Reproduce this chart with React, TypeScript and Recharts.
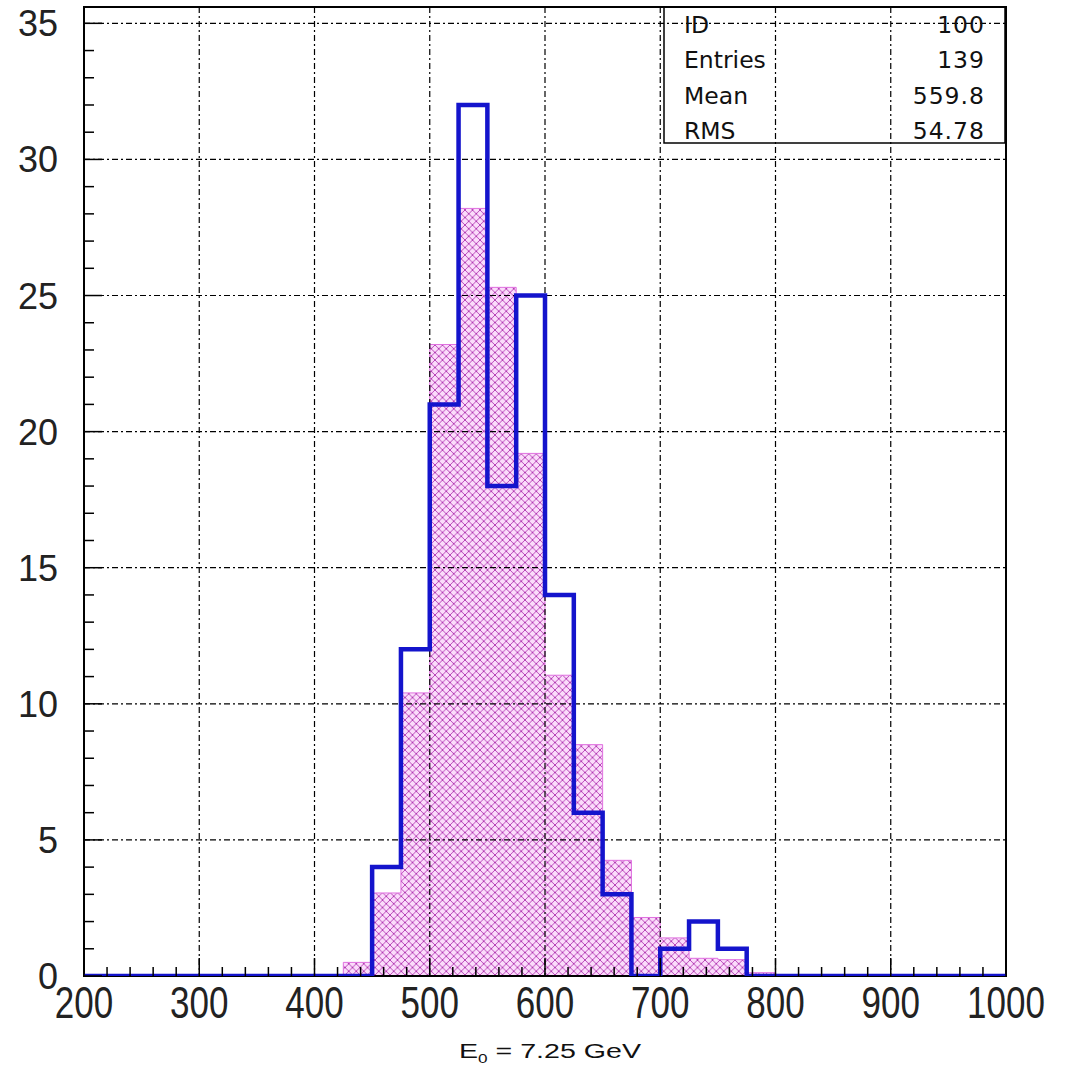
import React from 'react';
import {
  ComposedChart,
  Area,
  Line,
  XAxis,
  YAxis,
  CartesianGrid,
  ReferenceArea,
} from 'recharts';

// histogram bins (lower edge, width 25)
const binStart = [425, 450, 475, 500, 525, 550, 575, 600, 625, 650, 675, 700, 725, 750, 775];
const dataCounts = [0, 4, 12, 21, 32, 18, 25, 14, 6, 3, 0, 1, 2, 1, 0];
const mcCounts = [0.5, 3.05, 10.4, 23.2, 28.2, 25.3, 19.2, 11.05, 8.5, 4.25, 2.15, 1.4, 0.65, 0.6, 0.12];
const BIN_W = 25;

const xMajor = [200, 300, 400, 500, 600, 700, 800, 900, 1000];
const xGrid = [300, 400, 500, 600, 700, 800, 900];
const yMajor = [0, 5, 10, 15, 20, 25, 30, 35];
const yGrid = [5, 10, 15, 20, 25, 30, 35];

const statLabels = ['ID', 'Entries', 'Mean', 'RMS'];
const statValues = ['100', '139', '559.8', '54.78'];

const X_MIN = 200;
const X_MAX = 1000;
const Y_MAX = 35.6;

const W = 1070;
const H = 1073;
const Y_AXIS_W = 84;
const X_AXIS_H = 97;
const MARGIN = { top: 7, right: 64, left: 0, bottom: 0 };

// minor ticks: every 20 on x, every 1 on y
const xTicks: number[] = [];
for (let v = X_MIN; v <= X_MAX; v += 20) xTicks.push(v);
const yTicks: number[] = [];
for (let v = 0; v <= 35; v += 1) yTicks.push(v);

// step data: one point per bin edge, zero outside the filled range
const rows: { x: number; data: number; mc: number }[] = [{ x: X_MIN, data: 0, mc: 0 }];
binStart.forEach((b, i) => rows.push({ x: b, data: dataCounts[i], mc: mcCounts[i] }));
rows.push({ x: binStart[binStart.length - 1] + BIN_W, data: 0, mc: 0 });
rows.push({ x: X_MAX, data: 0, mc: 0 });

const FONT = '"Liberation Sans", Arial, sans-serif';
const BOX_FONT = '"DejaVu Sans", sans-serif';

function YTick(props: any) {
  const { x, y, payload } = props;
  const major = yMajor.includes(payload.value);
  return (
    <g>
      <line x1={x} x2={x + (major ? 18 : 10)} y1={y} y2={y} stroke="#000" strokeWidth={1.5} />
      {major && (
        <text x={x - 26} y={y} dy={13} textAnchor="end" fontSize={36} fontFamily={FONT} fill="#222">
          {payload.value}
        </text>
      )}
    </g>
  );
}

function XTick(props: any) {
  const { x, y, payload } = props;
  const major = xMajor.includes(payload.value);
  return (
    <g>
      <line x1={x} x2={x} y1={y} y2={y - (major ? 18 : 9)} stroke="#000" strokeWidth={1.5} />
      {major && (
        <g transform={`translate(${x},${y + 42}) scale(1,1.27)`}>
          <text x={0} y={0} textAnchor="middle" fontSize={35} fontFamily={FONT} fill="#222">
            {payload.value}
          </text>
        </g>
      )}
    </g>
  );
}

export default function App() {
  const boxX = 664;
  const boxY = 7;
  const boxW = 341;
  const boxH = 136;
  const rowBase = [33, 68, 104, 139];
  return (
    <div style={{ position: 'absolute', left: 0, top: 0, width: W, height: H, background: '#fff' }}>
      <ComposedChart width={W} height={H} data={rows} margin={MARGIN}>
        <defs>
          <pattern id="xhatch" patternUnits="userSpaceOnUse" width={7.5} height={7.5}>
            <rect width={7.5} height={7.5} fill="#fbdcfb" />
            <path d="M0,0 L7.5,7.5 M7.5,0 L0,7.5" stroke="#b034b0" strokeWidth={0.9} />
          </pattern>
        </defs>
        <XAxis
          dataKey="x"
          type="number"
          domain={[X_MIN, X_MAX]}
          ticks={xTicks}
          interval={0}
          height={X_AXIS_H}
          tickSize={0}
          tickMargin={0}
          axisLine={false}
          tick={<XTick />}
          allowDataOverflow
        />
        <YAxis
          type="number"
          domain={[0, Y_MAX]}
          ticks={yTicks}
          interval={0}
          width={Y_AXIS_W}
          tickSize={0}
          tickMargin={0}
          axisLine={false}
          tick={<YTick />}
          allowDataOverflow
        />
        <Area
          type="stepAfter"
          dataKey="mc"
          baseValue={0}
          stroke="#e070e0"
          strokeWidth={1}
          fill="url(#xhatch)"
          fillOpacity={1}
          dot={false}
          activeDot={false}
          isAnimationActive={false}
        />
        <CartesianGrid
          horizontalValues={yGrid}
          verticalValues={xGrid}
          stroke="#000"
          strokeWidth={1.2}
          strokeDasharray="6 3 2 3"
          zIndex={150}
        />
        <ReferenceArea
          x1={X_MIN}
          x2={X_MAX}
          y1={0}
          y2={Y_MAX}
          stroke="#000"
          strokeWidth={2}
          fill="none"
          fillOpacity={0}
          zIndex={160}
        />
        <Line
          type="stepAfter"
          dataKey="data"
          stroke="#1414cc"
          strokeWidth={4.5}
          strokeLinejoin="miter"
          dot={false}
          activeDot={false}
          isAnimationActive={false}
        />
      </ComposedChart>
      <svg
        width={W}
        height={H}
        style={{ position: 'absolute', left: 0, top: 0, pointerEvents: 'none' }}
      >
        <rect x={boxX} y={boxY} width={boxW} height={boxH} fill="none" stroke="#000" strokeWidth={1.5} />
        {statLabels.map((l, i) => (
          <g key={l}>
            <text x={boxX + 20} y={rowBase[i]} fontSize={23.5} fontFamily={BOX_FONT} fill="#111">
              {l}
            </text>
            <text
              x={boxX + boxW - 20}
              y={rowBase[i]}
              textAnchor="end"
              fontSize={23.5}
              fontFamily={BOX_FONT}
              fill="#111"
              letterSpacing={1}
            >
              {statValues[i]}
            </text>
          </g>
        ))}
        <text
          x={459}
          y={1058}
          fontSize={20}
          fontFamily={FONT}
          fill="#111"
          textLength={182}
          lengthAdjust="spacingAndGlyphs"
        >
          E<tspan fontSize={12} dy={5}>0</tspan>
          <tspan dy={-5}> = 7.25 GeV</tspan>
        </text>
      </svg>
    </div>
  );
}
